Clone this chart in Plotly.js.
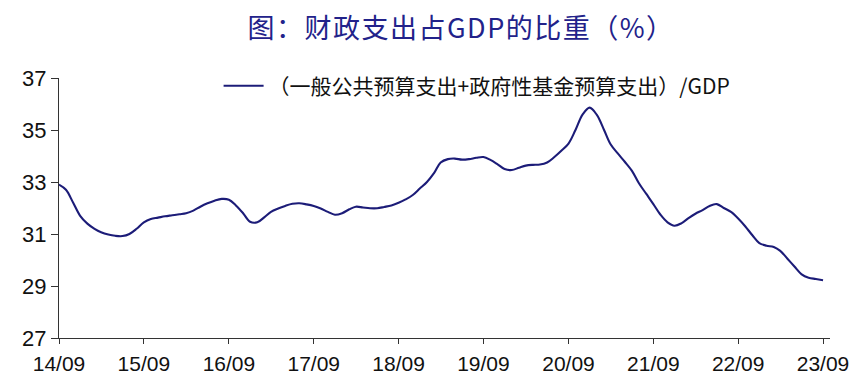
<!DOCTYPE html>
<html>
<head>
<meta charset="utf-8">
<script src="https://cdn.plot.ly/plotly-3.0.1.min.js"></script>
<style>
html,body{margin:0;padding:0;background:#fff;}
#chart{width:865px;height:382px;}
#chart .gtitle{letter-spacing:1.5px;}
</style>
</head>
<body>
<div id="chart"></div>
<script>
const startYear = 2014, startMonth = 9;
const values = [
  32.90, 32.70, 32.20, 31.70, 31.40, 31.20, 31.07, 30.98, 30.93, 30.92, 31.00, 31.20,
  31.45, 31.58, 31.63, 31.68, 31.72, 31.76, 31.80, 31.90, 32.05, 32.18, 32.28, 32.35,
  32.32, 32.10, 31.80, 31.47, 31.45, 31.65, 31.85, 31.98, 32.08, 32.16, 32.18, 32.14,
  32.08, 31.98, 31.85, 31.74, 31.80, 31.95, 32.05, 32.02, 31.99, 31.99, 32.04, 32.10,
  32.20, 32.33, 32.50, 32.75, 33.00, 33.35, 33.75, 33.88, 33.90, 33.86, 33.88, 33.93,
  33.96, 33.85, 33.68, 33.50, 33.46, 33.55, 33.63, 33.66, 33.67, 33.75, 33.95, 34.20,
  34.48, 35.00, 35.60, 35.86, 35.58, 35.00, 34.45, 34.10, 33.78, 33.43, 32.95, 32.55,
  32.15, 31.75, 31.45, 31.32, 31.42, 31.62, 31.78, 31.92, 32.08, 32.15, 32.00, 31.85,
  31.60, 31.30, 30.95, 30.65, 30.55, 30.50, 30.35, 30.05, 29.75, 29.45, 29.32, 29.27,
  29.22
];
const seriesName = '（一般公共预算支出+政府性基金预算支出）/GDP';
const chartTitle = '图：财政支出占GDP的比重（%）';
const yTicks = [27, 29, 31, 33, 35, 37];

const dates = values.map((v, i) => {
  const m0 = startMonth - 1 + i;
  const y = startYear + Math.floor(m0 / 12);
  const m = (m0 % 12) + 1;
  return y + '-' + String(m).padStart(2, '0') + '-01';
});

const trace = {
  x: dates, y: values, type: 'scatter', mode: 'lines', name: seriesName,
  line: {color: '#1c1c78', width: 2.1, shape: 'spline', smoothing: 1},
  showlegend: true
};

const layout = {
  width: 865, height: 382,
  margin: {l: 59, r: 35, t: 78, b: 44},
  paper_bgcolor: '#fff', plot_bgcolor: '#fff',
  title: {text: chartTitle, x: 0.533, xanchor: 'center', y: 0.924, yanchor: 'middle',
          font: {family: 'Noto Sans CJK SC', size: 27, color: '#22228a'}},
  showlegend: true,
  legend: {x: 0.207, y: 0.969, xanchor: 'left', yanchor: 'middle', bgcolor: 'rgba(0,0,0,0)',
           itemwidth: 40,
           font: {family: 'Noto Sans CJK SC', size: 21, color: '#111'}},
  xaxis: {
    type: 'date', range: ['2014-09-01', '2023-10-01'],
    tick0: '2014-09-01', dtick: 'M12', tickformat: '%y/%m',
    ticks: 'outside', ticklen: 5, tickcolor: '#333', showline: true, linecolor: '#333', linewidth: 1,
    showgrid: false, zeroline: false, ticklabelstandoff: 2,
    tickfont: {family: 'Liberation Sans, Arial', size: 21, color: '#111'}
  },
  yaxis: {
    range: [27, 37], tickvals: yTicks, ticktext: yTicks.map(String),
    ticks: 'outside', ticklen: 7, tickcolor: '#333', showline: true, linecolor: '#333', linewidth: 1,
    showgrid: false, zeroline: false,
    tickfont: {family: 'Liberation Sans, Arial', size: 22, color: '#111'}
  }
};

Plotly.newPlot('chart', [trace], layout, {displayModeBar: false, staticPlot: true});
</script>
</body>
</html>
